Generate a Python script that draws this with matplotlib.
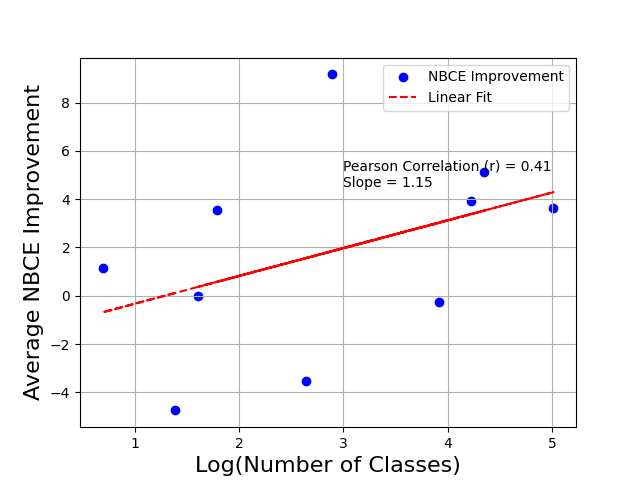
import matplotlib

matplotlib.use("Agg")
import matplotlib.pyplot as plt
import numpy as np

# dataset order (not sorted by class count)
num_classes = [4, 2, 150, 5, 77, 6, 68, 14, 50, 18]
avg_improvement = [-4.75, 1.17, 3.62, -0.02, 5.11, 3.55, 3.92, -3.52, -0.25, 9.17]

x = np.log(np.array(num_classes, dtype=float))
y = np.array(avg_improvement)

slope, intercept = np.polyfit(x, y, 1)
r = np.corrcoef(x, y)[0, 1]

fig, ax = plt.subplots(figsize=(6.4, 4.8), dpi=100)
ax.scatter(x, y, color="blue", label="NBCE Improvement")
ax.plot(x, slope * x + intercept, "r--", label="Linear Fit")
ax.text(3, 4.5, f"Pearson Correlation (r) = {r:.2f}\nSlope = {slope:.2f}", fontsize=10)
ax.set_xlabel("Log(Number of Classes)", fontsize=16)
ax.set_ylabel("Average NBCE Improvement", fontsize=16)
ax.grid(True)
ax.legend()
fig.savefig("out.png", dpi=100)
